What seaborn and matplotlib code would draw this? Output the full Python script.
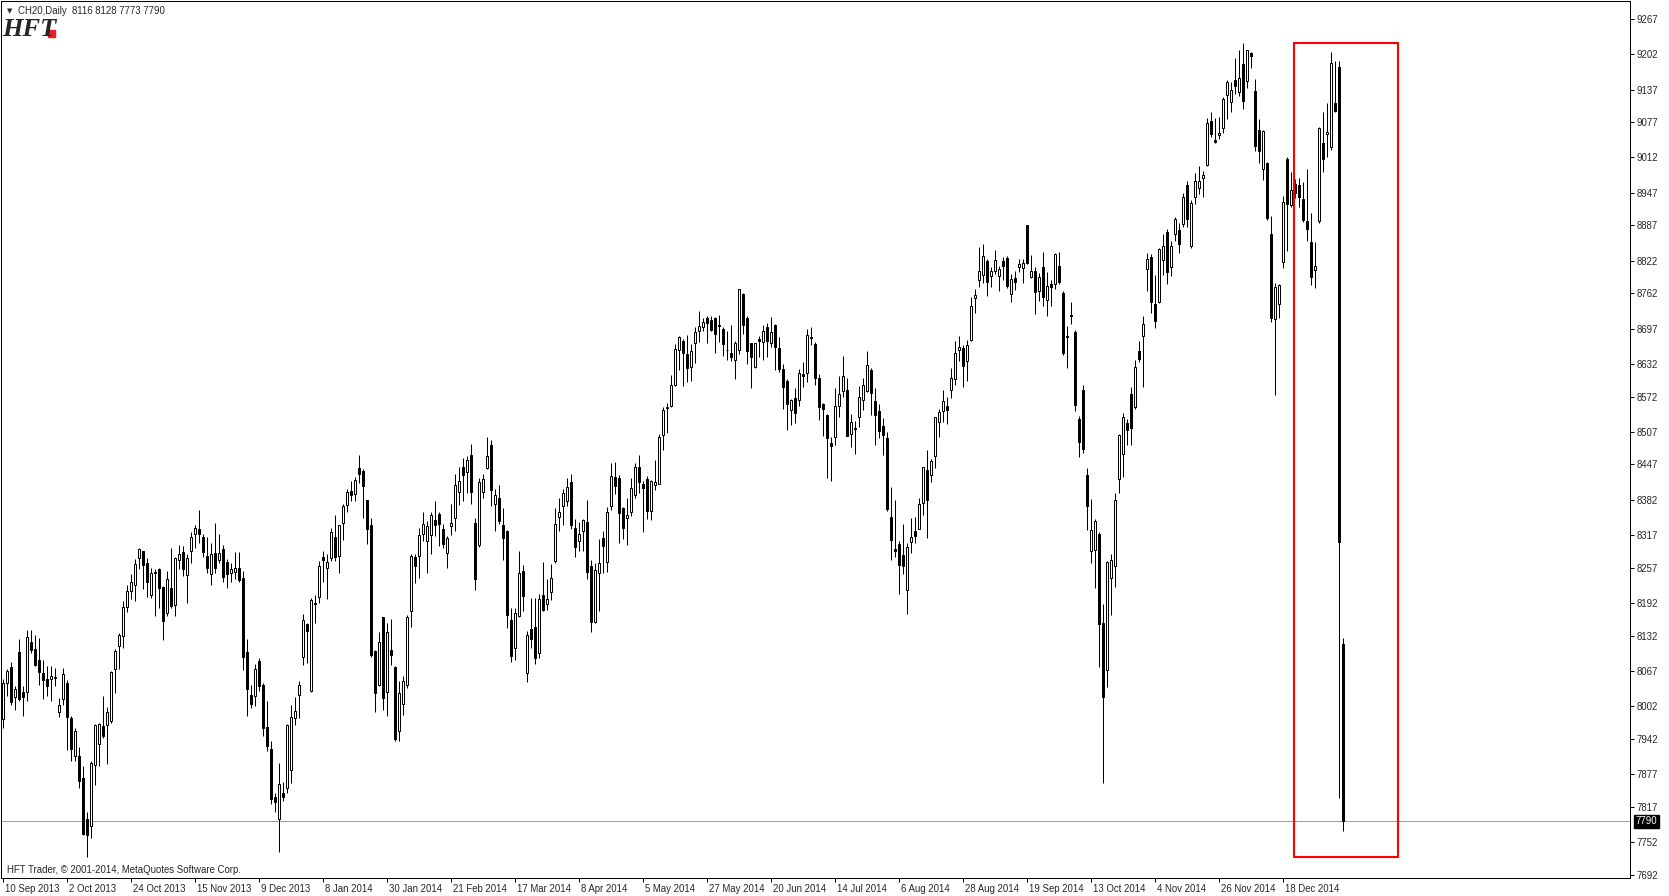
import numpy as np
import pandas as pd
import seaborn as sns
import matplotlib.pyplot as plt
from matplotlib.patches import Rectangle
from matplotlib.transforms import ScaledTranslation, blended_transform_factory

# daily CH20 candles, 10 Sep 2013 .. 15 Jan 2015
opens = [7978, 8045, 8075, 8019, 8102, 8028, 8029, 8121, 8108, 8088, 8064, 8053, 8053, 8054, 7991, 8016,
         8045, 7981, 7910, 7910, 7870, 7795, 7782, 7894, 7933, 7965, 7968, 7975, 8070, 8113, 8132, 8185,
         8215, 8225, 8274, 8287, 8265, 8206, 8250, 8254, 8222, 8174, 8219, 8188, 8271, 8286, 8244, 8288,
         8320, 8328, 8313, 8279, 8246, 8285, 8271, 8291, 8268, 8248, 8250, 8257, 8238, 8102, 8023, 8021,
         8086, 8042, 7964, 7923, 7835, 7795, 7843, 7851, 7884, 7980, 8023, 8093, 8154, 8031, 8193, 8203,
         8276, 8257, 8274, 8313, 8279, 8340, 8372, 8399, 8392, 8440, 8435, 8381, 8335, 8104, 8042, 8167,
         8029, 8105, 8075, 7956, 8007, 8041, 8177, 8276, 8279, 8320, 8306, 8317, 8345, 8356, 8329, 8285,
         8333, 8348, 8396, 8442, 8434, 8464, 8339, 8299, 8397, 8440, 8483, 8375, 8386, 8335, 8325, 8160,
         8110, 8168, 8251, 8064, 8145, 8148, 8100, 8206, 8191, 8213, 8269, 8351, 8370, 8380, 8414, 8331,
         8306, 8325, 8342, 8260, 8157, 8248, 8311, 8268, 8370, 8424, 8422, 8367, 8348, 8359, 8391, 8443,
         8412, 8421, 8362, 8410, 8412, 8502, 8551, 8555, 8594, 8657, 8674, 8650, 8626, 8670, 8692, 8700,
         8717, 8713, 8717, 8704, 8696, 8657, 8652, 8640, 8657, 8761, 8717, 8670, 8626, 8678, 8672, 8700,
         8670, 8704, 8661, 8623, 8601, 8548, 8569, 8566, 8614, 8615, 8680, 8669, 8607, 8558, 8538, 8486,
         8497, 8555, 8582, 8584, 8503, 8515, 8534, 8566, 8582, 8621, 8563, 8545, 8517, 8496, 8351, 8291,
         8300, 8280, 8216, 8305, 8324, 8329, 8377, 8437, 8427, 8462, 8526, 8546, 8554, 8584, 8604, 8658,
         8661, 8638, 8676, 8753, 8787, 8795, 8821, 8793, 8803, 8794, 8822, 8827, 8760, 8790, 8810, 8809,
         8887, 8792, 8804, 8766, 8810, 8750, 8779, 8779, 8812, 8763, 8683, 8722, 8690, 8530, 8585, 8427,
         8288, 8290, 8320, 8156, 8069, 8239, 8261, 8420, 8467, 8524, 8576, 8552, 8655, 8683, 8806, 8828,
         8742, 8746, 8824, 8874, 8810, 8871, 8878, 8889, 8962, 8849, 8940, 8956, 8975, 8999, 9080, 9045,
         9054, 9066, 9127, 9115, 9154, 9132, 9184, 9153, 9205, 9135, 9062, 8991, 9002, 8871, 8714, 8742,
         8820, 9010, 8925, 8963, 8961, 8935, 8895, 8857, 8805, 8895, 9038, 9055, 9032, 9113, 9179, 8116]
highs = [8053, 8070, 8083, 8039, 8125, 8039, 8142, 8142, 8134, 8127, 8087, 8076, 8076, 8073, 8018, 8073,
         8051, 7984, 7962, 7927, 7892, 7807, 7901, 7969, 7972, 8021, 8001, 8067, 8107, 8137, 8195, 8225,
         8245, 8273, 8294, 8288, 8274, 8257, 8254, 8257, 8223, 8251, 8293, 8276, 8298, 8297, 8282, 8322,
         8335, 8364, 8320, 8314, 8302, 8339, 8320, 8298, 8273, 8265, 8286, 8286, 8251, 8125, 8042, 8079,
         8090, 8045, 8011, 7939, 7842, 7898, 7863, 7969, 8005, 8020, 8048, 8171, 8155, 8201, 8207, 8269,
         8287, 8283, 8330, 8354, 8336, 8375, 8401, 8416, 8424, 8464, 8438, 8382, 8349, 8105, 8138, 8167,
         8155, 8163, 8077, 8048, 8057, 8170, 8282, 8282, 8330, 8360, 8343, 8359, 8379, 8359, 8338, 8316,
         8374, 8429, 8442, 8459, 8463, 8485, 8349, 8423, 8430, 8497, 8492, 8402, 8409, 8367, 8326, 8182,
         8182, 8288, 8262, 8141, 8202, 8202, 8208, 8268, 8236, 8263, 8367, 8385, 8402, 8422, 8429, 8346,
         8342, 8346, 8381, 8271, 8266, 8309, 8324, 8368, 8449, 8451, 8428, 8368, 8386, 8423, 8449, 8464,
         8417, 8425, 8419, 8455, 8503, 8552, 8561, 8612, 8669, 8684, 8678, 8685, 8669, 8700, 8729, 8717,
         8720, 8720, 8719, 8722, 8700, 8693, 8704, 8674, 8770, 8763, 8721, 8671, 8671, 8684, 8704, 8707,
         8719, 8705, 8682, 8632, 8604, 8567, 8588, 8623, 8635, 8696, 8700, 8672, 8613, 8561, 8540, 8497,
         8588, 8609, 8646, 8606, 8540, 8527, 8592, 8607, 8655, 8625, 8588, 8558, 8532, 8506, 8405, 8381,
         8306, 8337, 8302, 8349, 8351, 8385, 8443, 8474, 8457, 8535, 8549, 8584, 8572, 8625, 8675, 8683,
         8666, 8676, 8755, 8770, 8848, 8852, 8825, 8811, 8842, 8812, 8828, 8830, 8798, 8803, 8825, 8825,
         8888, 8833, 8810, 8799, 8838, 8801, 8787, 8837, 8838, 8766, 8701, 8746, 8695, 8537, 8594, 8440,
         8383, 8347, 8323, 8191, 8269, 8283, 8394, 8504, 8542, 8530, 8589, 8639, 8674, 8721, 8837, 8834,
         8795, 8846, 8871, 8881, 8859, 8903, 8892, 8947, 8968, 8934, 8984, 8996, 8988, 9085, 9096, 9085,
         9087, 9123, 9154, 9151, 9195, 9210, 9223, 9210, 9207, 9156, 9082, 9062, 9004, 8905, 8781, 8780,
         8941, 9012, 8985, 8972, 8974, 8966, 8991, 8909, 8857, 9069, 9096, 9113, 9207, 9189, 9189, 8128]
lows = [7962, 8021, 8004, 7996, 8012, 7984, 8012, 8101, 8076, 8041, 8015, 8021, 8012, 8040, 7983, 8005,
        7922, 7901, 7901, 7852, 7766, 7725, 7760, 7858, 7892, 7944, 7895, 7972, 8027, 8070, 8110, 8175,
        8200, 8196, 8254, 8217, 8204, 8202, 8169, 8182, 8124, 8168, 8182, 8168, 8255, 8241, 8193, 8266,
        8294, 8303, 8276, 8247, 8225, 8247, 8266, 8231, 8219, 8231, 8236, 8230, 8069, 7984, 7998, 8003,
        8030, 7947, 7919, 7823, 7808, 7734, 7828, 7842, 7860, 7968, 7980, 8078, 8081, 8029, 8155, 8192,
        8230, 8199, 8269, 8269, 8247, 8308, 8359, 8380, 8380, 8413, 8349, 8300, 8093, 7991, 8040, 7996,
        7984, 8078, 7939, 7939, 7986, 8036, 8148, 8228, 8238, 8306, 8248, 8282, 8316, 8297, 8294, 8256,
        8317, 8325, 8373, 8380, 8394, 8375, 8216, 8295, 8386, 8438, 8371, 8325, 8337, 8271, 8147, 8084,
        8087, 8166, 8177, 8047, 8109, 8079, 8090, 8177, 8179, 8198, 8266, 8325, 8336, 8371, 8328, 8277,
        8287, 8287, 8237, 8139, 8156, 8177, 8248, 8250, 8363, 8392, 8303, 8309, 8299, 8352, 8386, 8394,
        8322, 8346, 8345, 8400, 8411, 8474, 8505, 8552, 8592, 8620, 8592, 8599, 8601, 8634, 8673, 8692,
        8671, 8692, 8652, 8673, 8647, 8640, 8637, 8604, 8650, 8687, 8632, 8588, 8625, 8645, 8639, 8645,
        8664, 8620, 8617, 8549, 8511, 8520, 8523, 8555, 8589, 8599, 8667, 8594, 8529, 8499, 8423, 8417,
        8483, 8534, 8572, 8499, 8480, 8467, 8516, 8548, 8580, 8538, 8483, 8495, 8465, 8362, 8271, 8277,
        8209, 8246, 8172, 8285, 8302, 8328, 8354, 8311, 8414, 8441, 8497, 8526, 8521, 8569, 8594, 8638,
        8590, 8601, 8675, 8725, 8773, 8781, 8758, 8773, 8798, 8767, 8786, 8772, 8746, 8769, 8802, 8781,
        8816, 8790, 8724, 8747, 8738, 8720, 8738, 8770, 8779, 8649, 8624, 8706, 8545, 8460, 8468, 8327,
        8266, 8219, 8074, 7860, 8037, 8170, 8222, 8394, 8424, 8482, 8482, 8550, 8636, 8590, 8766, 8726,
        8698, 8744, 8796, 8779, 8793, 8858, 8837, 8884, 8884, 8845, 8927, 8944, 8939, 8996, 9049, 9038,
        9046, 9057, 9082, 9096, 9129, 9126, 9102, 9139, 9176, 9024, 9002, 8970, 8897, 8709, 8575, 8716,
        8808, 8839, 8921, 8938, 8921, 8894, 8858, 8778, 8772, 8892, 8986, 9013, 9026, 9095, 7834, 7773]
closes = [8045, 8067, 8010, 8033, 8015, 8019, 8130, 8105, 8078, 8066, 8050, 8039, 8058, 8055, 8005, 8062,
          7982, 7924, 7956, 7864, 7767, 7766, 7897, 7968, 7970, 7948, 7992, 8065, 8104, 8134, 8185, 8215,
          8230, 8263, 8291, 8262, 8231, 8247, 8247, 8219, 8159, 8236, 8187, 8274, 8282, 8255, 8274, 8313,
          8331, 8320, 8286, 8256, 8282, 8256, 8284, 8240, 8246, 8254, 8256, 8234, 8093, 8034, 8007, 8071,
          8039, 7962, 7929, 7831, 7825, 7859, 7835, 7968, 7983, 7994, 8042, 8160, 8141, 8198, 8191, 8261,
          8272, 8268, 8322, 8276, 8335, 8371, 8396, 8391, 8418, 8429, 8408, 8329, 8096, 8026, 8121, 8017,
          8138, 8096, 7941, 8026, 8048, 8166, 8278, 8260, 8317, 8337, 8333, 8354, 8335, 8337, 8301, 8311,
          8339, 8409, 8416, 8427, 8455, 8397, 8237, 8414, 8421, 8463, 8400, 8391, 8343, 8311, 8170, 8094,
          8174, 8248, 8205, 8134, 8125, 8090, 8199, 8179, 8200, 8239, 8337, 8359, 8394, 8405, 8336, 8295,
          8320, 8345, 8249, 8158, 8253, 8266, 8297, 8359, 8426, 8408, 8357, 8331, 8354, 8403, 8443, 8414,
          8403, 8362, 8416, 8414, 8497, 8548, 8552, 8593, 8660, 8681, 8652, 8624, 8655, 8690, 8701, 8709,
          8708, 8695, 8688, 8701, 8668, 8657, 8645, 8671, 8770, 8703, 8655, 8645, 8670, 8675, 8693, 8675,
          8690, 8664, 8622, 8589, 8559, 8566, 8541, 8615, 8609, 8685, 8682, 8606, 8552, 8550, 8495, 8481,
          8554, 8577, 8609, 8500, 8526, 8512, 8572, 8593, 8630, 8578, 8538, 8508, 8502, 8366, 8308, 8288,
          8262, 8260, 8296, 8313, 8316, 8374, 8442, 8382, 8454, 8534, 8544, 8564, 8548, 8607, 8652, 8663,
          8629, 8667, 8738, 8759, 8804, 8830, 8782, 8803, 8824, 8806, 8812, 8776, 8789, 8782, 8816, 8817,
          8818, 8804, 8764, 8792, 8755, 8776, 8773, 8835, 8782, 8652, 8682, 8720, 8557, 8489, 8475, 8370,
          8327, 8343, 8154, 8019, 8267, 8272, 8382, 8502, 8535, 8510, 8515, 8627, 8642, 8706, 8825, 8746,
          8711, 8843, 8849, 8801, 8850, 8899, 8852, 8940, 8898, 8929, 8969, 8968, 8979, 9076, 9055, 9041,
          9057, 9120, 9151, 9137, 9144, 9159, 9116, 9209, 9198, 9033, 9024, 9060, 8900, 8717, 8773, 8778,
          8930, 8927, 8952, 8947, 8939, 8897, 8880, 8792, 8812, 9066, 9010, 9059, 9186, 9097, 8305, 7790]

date_bars = list(range(0, 321, 16))
date_labels = ['10 Sep 2013', '2 Oct 2013', '24 Oct 2013', '15 Nov 2013', '9 Dec 2013', '8 Jan 2014',
               '30 Jan 2014', '21 Feb 2014', '17 Mar 2014', '8 Apr 2014', '5 May 2014', '27 May 2014',
               '20 Jun 2014', '14 Jul 2014', '6 Aug 2014', '28 Aug 2014', '19 Sep 2014', '13 Oct 2014',
               '4 Nov 2014', '26 Nov 2014', '18 Dec 2014']
price_labels = ['9267', '9202', '9137', '9077', '9012', '8947', '8887', '8822', '8762', '8697', '8632',
                '8572', '8507', '8447', '8382', '8317', '8257', '8192', '8132', '8067', '8002', '7942',
                '7877', '7817', '7752', '7692']
last_price = 7790

df = pd.DataFrame({'open': opens, 'high': highs, 'low': lows, 'close': closes})
df['bar'] = np.arange(len(df))
up = df['close'] >= df['open']

sns.set_style('white')
plt.rcParams['font.family'] = ['Liberation Sans', 'DejaVu Sans']
fs = 6.9

fig = plt.figure(figsize=(16.69, 8.96), dpi=100)
ax = fig.add_axes([1 / 1669, 18 / 896, 1629 / 1669, 877 / 896])

px = 0.72  # one pixel in points
ax.vlines(df['bar'], df['low'], df['high'], color='black', lw=px, zorder=2)
ax.bar(df['bar'], (df['close'] - df['open']).abs(), bottom=df[['open', 'close']].min(axis=1),
       width=0.5, color=np.where(up, 'white', 'black'), edgecolor='black', linewidth=px, zorder=3)

ax.axhline(last_price, color='#a0a0a0', lw=px, zorder=1)

# red highlight box round the last weeks
ax.add_patch(Rectangle((322.7, 7725), 26.1, 1497, fill=False, edgecolor='#ff0000', lw=1.5, zorder=4))

ax.set_xlim(-0.575, 406.7)
ax.set_ylim(7686, 9300)

for s in ax.spines.values():
    s.set_color('black')
    s.set_linewidth(px)

ax.set_xticks(date_bars)
ax.set_xticklabels(date_labels, fontsize=fs, ha='left')
ax.tick_params(axis='x', direction='out', length=3, width=px, color='black', pad=1, bottom=True)
off = ScaledTranslation(2 / 100, 0, fig.dpi_scale_trans)
for lbl in ax.get_xticklabels():
    lbl.set_transform(lbl.get_transform() + off)

ax.yaxis.tick_right()
ax.set_yticks([int(v) for v in price_labels])
ax.set_yticklabels(price_labels, fontsize=fs)
ax.tick_params(axis='y', direction='out', length=3, width=px, color='black', pad=2, right=True, left=False)

trans = blended_transform_factory(ax.transAxes, ax.transData)
ax.text(1.0035, last_price, str(last_price), transform=trans, fontsize=fs, color='white',
        va='center', ha='left', bbox=dict(boxstyle='square,pad=0.18', fc='black', ec='black'), zorder=5)

fig.text(7 / 1669, 1 - 11 / 896, '\u25bc', fontsize=5, va='center', ha='left', family=['DejaVu Sans'])
fig.text(18 / 1669, 1 - 11 / 896, 'CH20,Daily  8116 8128 7773 7790', fontsize=fs, va='center', ha='left')
fig.text(2 / 1669, 1 - 36 / 896, 'HFT', fontsize=19, fontweight='bold', fontstyle='italic',
         family=['Liberation Serif'], va='baseline', ha='left')
fig.patches.append(Rectangle((48 / 1669, 1 - 37 / 896), 7 / 1669, 7 / 896, transform=fig.transFigure,
                             color='#e8202a', figure=fig))
fig.text(7 / 1669, 1 - 870 / 896, 'HFT Trader, \u00a9 2001-2014, MetaQuotes Software Corp.', fontsize=fs,
         va='center', ha='left')

plt.savefig('out.png', dpi=100)
